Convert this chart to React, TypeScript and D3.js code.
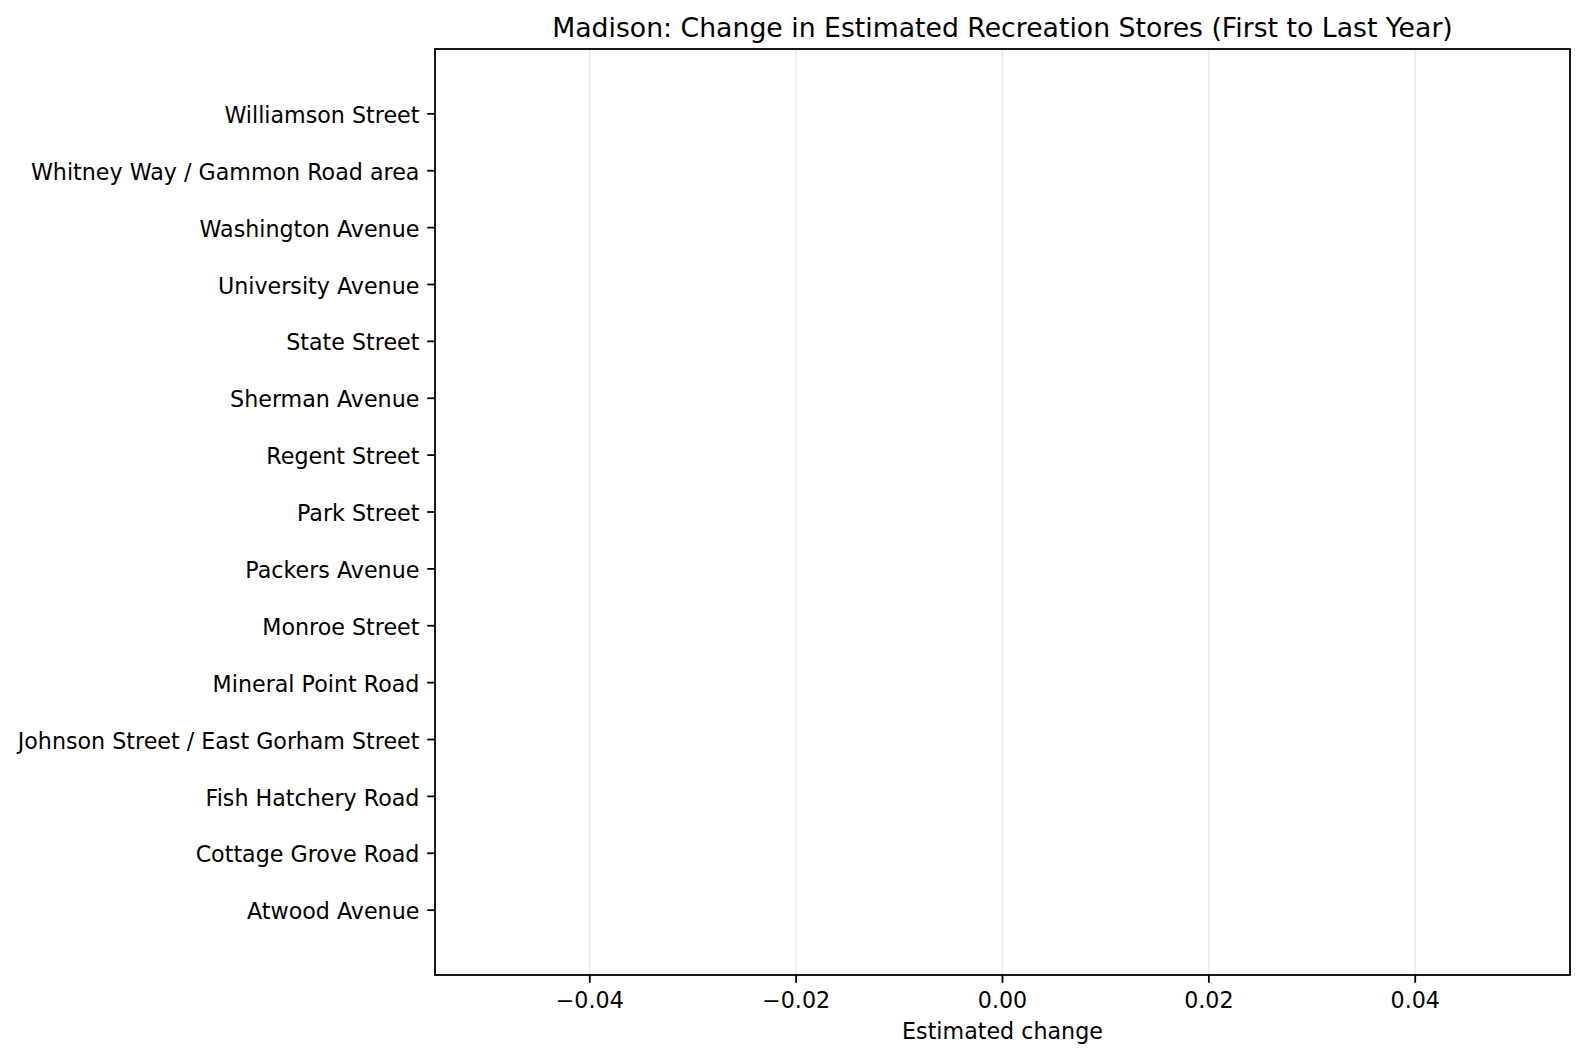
import * as d3 from "d3";
import { useRef, useEffect } from "react";

// neighborhoods, bottom to top as drawn
const areas = [
    "Atwood Avenue",
    "Cottage Grove Road",
    "Fish Hatchery Road",
    "Johnson Street / East Gorham Street",
    "Mineral Point Road",
    "Monroe Street",
    "Packers Avenue",
    "Park Street",
    "Regent Street",
    "Sherman Avenue",
    "State Street",
    "University Avenue",
    "Washington Avenue",
    "Whitney Way / Gammon Road area",
    "Williamson Street",
];

// change from first to last year (all zero)
const changes = [0, 0, 0, 0, 0, 0, 0, 0, 0, 0, 0, 0, 0, 0, 0];

const xTicks = [-0.04, -0.02, 0.0, 0.02, 0.04];

export default function App() {
    const ref = useRef<SVGSVGElement | null>(null);

    useEffect(() => {
        document.body.style.margin = "0";
        const svg = d3.select(ref.current);
        svg.selectAll("*").remove();

        const width = 1585;
        const height = 1056;
        const m = { left: 435, right: 1570, top: 49, bottom: 975 };
        const font = "DejaVu Sans";
        const tickLen = 7.8;

        svg.attr("width", width).attr("height", height)
            .style("background", "#fff");

        const x = d3.scaleLinear().domain([-0.055, 0.055]).range([m.left, m.right]);
        // matplotlib barh limits: -0.4..n-0.6 padded 5%
        const n = areas.length;
        const lo = -0.4, hi = n - 1 + 0.4;
        const pad = (hi - lo) * 0.05;
        const y = d3.scaleLinear().domain([lo - pad, hi + pad]).range([m.bottom, m.top]);

        // grid
        svg.append("g")
            .selectAll("line")
            .data(xTicks)
            .enter()
            .append("line")
            .attr("x1", (d) => x(d))
            .attr("x2", (d) => x(d))
            .attr("y1", m.top)
            .attr("y2", m.bottom)
            .attr("stroke", "#e8e8e8")
            .attr("stroke-width", 1.4);

        // bars
        const bh = (y(0) - y(0.8));
        svg.append("g")
            .selectAll("rect")
            .data(changes)
            .enter()
            .append("rect")
            .attr("x", (d) => x(Math.min(0, d)))
            .attr("y", (_, i) => y(i) - bh / 2)
            .attr("width", (d) => Math.abs(x(d) - x(0)))
            .attr("height", bh)
            .attr("fill", "#1f77b4");

        // frame
        svg.append("rect")
            .attr("x", m.left)
            .attr("y", m.top)
            .attr("width", m.right - m.left)
            .attr("height", m.bottom - m.top)
            .attr("fill", "none")
            .attr("stroke", "#000")
            .attr("stroke-width", 1.8);

        // x ticks
        const xt = svg.append("g");
        xt.selectAll("line")
            .data(xTicks)
            .enter()
            .append("line")
            .attr("x1", (d) => x(d))
            .attr("x2", (d) => x(d))
            .attr("y1", m.bottom)
            .attr("y2", m.bottom + tickLen)
            .attr("stroke", "#000")
            .attr("stroke-width", 1.8);
        xt.selectAll("text")
            .data(xTicks)
            .enter()
            .append("text")
            .attr("x", (d) => x(d))
            .attr("y", 1008)
            .attr("text-anchor", "middle")
            .attr("font-family", font)
            .attr("font-size", 22.2)
            .text((d) => d3.format(".2f")(d).replace("-", "\u2212"));

        // y ticks
        const yt = svg.append("g");
        yt.selectAll("line")
            .data(areas)
            .enter()
            .append("line")
            .attr("x1", m.left - tickLen)
            .attr("x2", m.left)
            .attr("y1", (_, i) => y(i))
            .attr("y2", (_, i) => y(i))
            .attr("stroke", "#000")
            .attr("stroke-width", 1.8);
        yt.selectAll("text")
            .data(areas)
            .enter()
            .append("text")
            .attr("x", m.left - tickLen * 2)
            .attr("y", (_, i) => y(i))
            .attr("dy", "0.41em")
            .attr("text-anchor", "end")
            .attr("font-family", font)
            .attr("font-size", 22.2)
            .text((d) => d);

        svg.append("text")
            .attr("x", (m.left + m.right) / 2)
            .attr("y", 1039)
            .attr("text-anchor", "middle")
            .attr("font-family", font)
            .attr("font-size", 22.2)
            .text("Estimated change");

        svg.append("text")
            .attr("x", (m.left + m.right) / 2)
            .attr("y", 37)
            .attr("text-anchor", "middle")
            .attr("font-family", font)
            .attr("font-size", 26.7)
            .text("Madison: Change in Estimated Recreation Stores (First to Last Year)");
    }, []);

    return <svg ref={ref}></svg>;
}
